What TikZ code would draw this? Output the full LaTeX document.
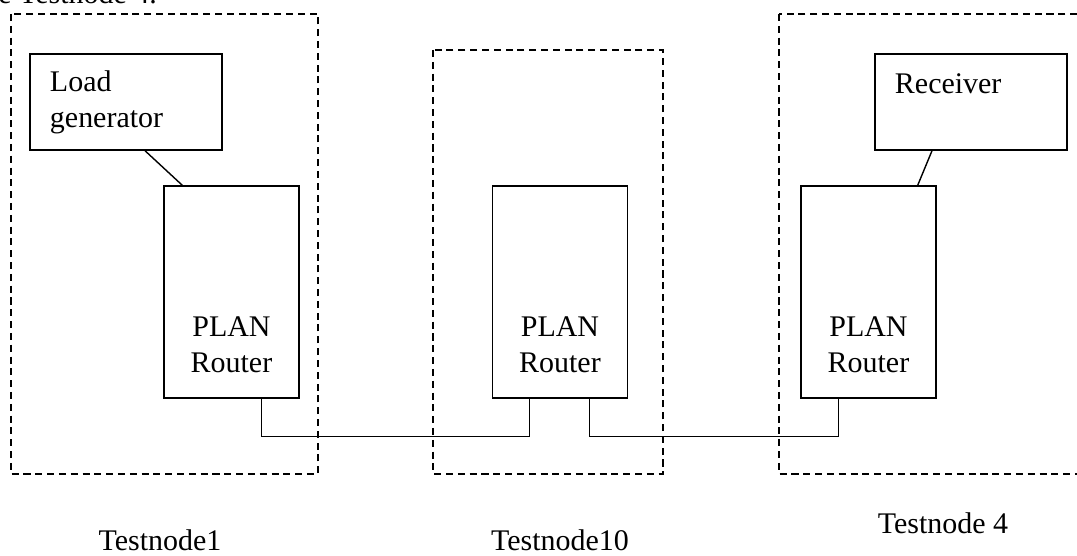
\documentclass[tikz,border=0pt]{standalone}
\usepackage{fontspec}
\setmainfont{Liberation Serif}
\usetikzlibrary{positioning,calc}

\tikzset{
   router/.style={draw, line width=1pt, minimum width=3.375cm,
      minimum height=5.3cm, inner sep=0pt},
   rtext/.style={align=center, inner sep=0pt},
   host/.style={draw, line width=1pt, minimum width=4.8cm,
      minimum height=2.4cm, text width=3.8cm, align=left,
      inner xsep=0.5cm, inner ysep=0pt},
   group/.style={line width=1pt, dash pattern=on 5pt off 3.4pt},
   link/.style={line width=1pt}
}

\begin{document}
\begin{tikzpicture}[x=0.025cm, y=-0.025cm,
      font=\fontsize{21.3}{25.5}\selectfont]
   \useasboundingbox (0,0) rectangle (1077,556);

   % cut off line of the text above
   \node[anchor=base east, inner sep=0pt] (intro) at (157,4) {to the Testnode 4.};

   % testnode frames
   \draw[group] (11,14)  rectangle (318,474);
   \draw[group] (433,50) rectangle (663,474);
   \draw[group] (779,14) rectangle (1100,474);

   % routers
   \node[router]                   (r1) at (231.5,292) {};
   \node[router, right=4.8cm of r1] (r2) {};
   \node[router, right=4.3cm of r2] (r3) {};

   \node[rtext, above=0.65cm of r1.south] (r1txt) {PLAN\\Router};
   \node[rtext, above=0.65cm of r2.south] (r2txt) {PLAN\\Router};
   \node[rtext, above=0.65cm of r3.south] (r3txt) {PLAN\\Router};

   % load generator and receiver
   \node[host] (gen)  at (126,102) {Load\\generator};
   \node[host] (recv) at (971,102) {Receiver\\~};

   \draw[link] ($(gen.south)+(19,0)$)   -- ($(r1.north west)+(19,0)$);
   \draw[link] ($(recv.south)+(-39,0)$) -- ($(r3.north east)+(-19,0)$);

   % links between the routers
   \draw[link] ($(r1.south east)+(-38,0)$) -- ++(0,38)
      -| ($(r2.south west)+(38,0)$);
   \draw[link] ($(r2.south east)+(-39,0)$) -- ++(0,38)
      -| ($(r3.south west)+(38,0)$);

   % node names
   \node[anchor=base, inner sep=0pt] (t1)  at (160,550) {Testnode1};
   \node[anchor=base, inner sep=0pt] (t10) at (560,550) {Testnode10};
   \node[anchor=base, inner sep=0pt] (t4)  at (943,533) {Testnode 4};
\end{tikzpicture}
\end{document}
